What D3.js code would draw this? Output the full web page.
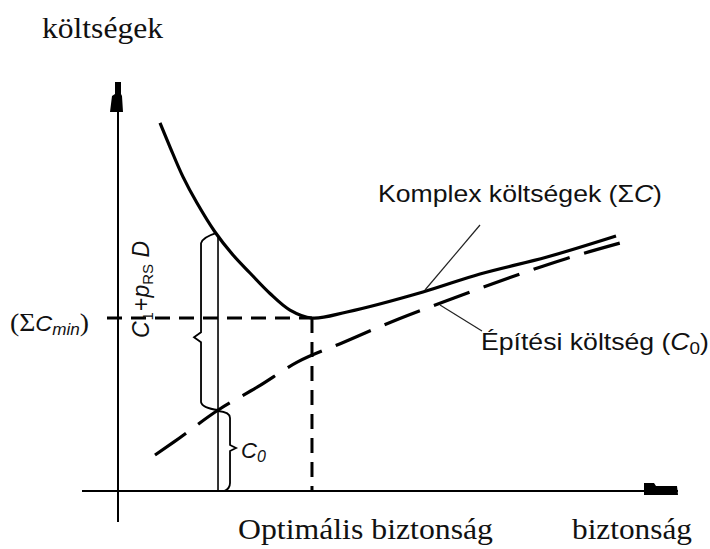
<!DOCTYPE html>
<html><head><meta charset="utf-8">
<script src="https://cdn.jsdelivr.net/npm/d3@7"></script>
<style>html,body{margin:0;padding:0;background:#fff;}svg{display:block;}</style>
</head><body>
<script>
// ---- data (arbitrary units: safety on x, cost on y) ----
const sumCx = [0.75, 0.929, 1.161, 1.411, 1.732, 2.054, 2.357, 2.714, 3.071, 3.464, 4.089, 5.446, 6.464, 7.661, 8.893];
const sumCy = [9.0, 8.41, 7.68, 7.04, 6.333, 5.77, 5.33, 4.83, 4.425, 4.23, 4.377, 4.866, 5.306, 5.721, 6.235];
const c0x = [0.66, 1.0, 1.79, 2.5, 3.2, 4.0, 5.0, 6.0, 7.0, 8.0, 8.96];
const c0y = [0.88, 1.20, 1.98, 2.55, 3.15, 3.62, 4.20, 4.72, 5.22, 5.68, 6.06];
const optimum = [3.464, 4.23];        // optimal safety, ΣC min
const refX = [1.786];                 // reference safety level for braces
const refY = [6.23, 1.98];            // ΣC and C0 at reference level

const W = 710, H = 549;
const x = d3.scaleLinear().domain([0, 10]).range([118, 678]);
const y = d3.scaleLinear().domain([0, 10]).range([491, 82]);

const svg = d3.select("body").append("svg").attr("width", W).attr("height", H);
const ink = "#000";

// axes
svg.append("line").attr("x1", x(0)).attr("x2", x(0)).attr("y1", y(10)).attr("y2", y(0) + 31)
  .attr("stroke", ink).attr("stroke-width", 2);
svg.append("line").attr("x1", x(0) - 36).attr("x2", x(10)).attr("y1", y(0)).attr("y2", y(0))
  .attr("stroke", ink).attr("stroke-width", 2);
// arrow blocks
const ax = x(0), ay = y(10);
svg.append("path").attr("fill", ink)
  .attr("d", `M${ax-3},${ay} L${ax+3},${ay} L${ax+3},${ay+12} L${ax+4},${ay+14} L${ax+5},${ay+30} L${ax-8},${ay+30} L${ax-6},${ay+14} L${ax-3},${ay+12} Z`);
const bx = x(10), by = y(0);
svg.append("path").attr("fill", ink)
  .attr("d", `M${bx-34},${by-8} L${bx-24},${by-8} L${bx-22},${by-5} L${bx-1},${by-5} L${bx},${by+4} L${bx-34},${by+4} Z`);

const line = d3.line().x(d => x(d[0])).y(d => y(d[1])).curve(d3.curveMonotoneX);
const smooth = d3.line().x(d => x(d[0])).y(d => y(d[1])).curve(d3.curveCatmullRom.alpha(0.5));

// C0 dashed curve
svg.append("path").attr("d", line(c0x.map((v, i) => [v, c0y[i]])))
  .attr("fill", "none").attr("stroke", ink).attr("stroke-width", 3.2)
  .attr("stroke-dasharray", "38,15");

// ΣC curve
svg.append("path").attr("d", smooth(sumCx.map((v, i) => [v, sumCy[i]])))
  .attr("fill", "none").attr("stroke", ink).attr("stroke-width", 3.2);

// optimum dashed guides
svg.append("line").attr("x1", x(0) - 11).attr("x2", x(optimum[0])).attr("y1", y(optimum[1])).attr("y2", y(optimum[1]))
  .attr("stroke", ink).attr("stroke-width", 3).attr("stroke-dasharray", "15,9");
svg.append("line").attr("x1", x(optimum[0])).attr("x2", x(optimum[0])).attr("y1", y(optimum[1])).attr("y2", y(0))
  .attr("stroke", ink).attr("stroke-width", 3).attr("stroke-dasharray", "15,9");

// reference vertical line
svg.append("line").attr("x1", x(refX[0])).attr("x2", x(refX[0])).attr("y1", y(refY[0])).attr("y2", y(0))
  .attr("stroke", ink).attr("stroke-width", 1.6);

// big brace (left)
const rx = x(refX[0]), t = y(refY[0]) - 3, m = y(refY[1]);
const bxL = rx - 17, mid = t + 104;
svg.append("path").attr("fill", "none").attr("stroke", ink).attr("stroke-width", 1.8)
  .attr("d", `M${rx-2},${t} Q${bxL+2},${t+4} ${bxL},${t+10} L${bxL},${mid-5} L${bxL-7},${mid} L${bxL},${mid+5} L${bxL},${m-8} Q${bxL+1},${m-2} ${rx},${m}`);
// small brace (right)
const bxR = rx + 12, mid2 = m + 38;
svg.append("path").attr("fill", "none").attr("stroke", ink).attr("stroke-width", 1.8)
  .attr("d", `M${rx},${m+1} Q${bxR},${m+2} ${bxR},${m+8} L${bxR},${mid2-3} L${bxR+6},${mid2} L${bxR},${mid2+3} L${bxR},${y(0)-8} Q${bxR},${y(0)-2} ${rx+6},${y(0)}`);

// leader lines
svg.append("line").attr("x1", 480).attr("y1", 225).attr("x2", 425).attr("y2", 290).attr("stroke", "#222").attr("stroke-width", 1.2);
svg.append("line").attr("x1", 440).attr("y1", 305).attr("x2", 482).attr("y2", 331).attr("stroke", "#222").attr("stroke-width", 1.2);

const serif = "'Liberation Serif', 'Times New Roman', serif";
const sans = "'Liberation Sans', Arial, sans-serif";

// texts
svg.append("text").attr("x", 42).attr("y", 38).attr("font-family", serif).attr("font-size", 30)
  .attr("textLength", 121).attr("lengthAdjust", "spacingAndGlyphs").attr("fill", "#111").text("költségek");

svg.append("text").attr("x", 238).attr("y", 539).attr("font-family", serif).attr("font-size", 30)
  .attr("textLength", 255).attr("lengthAdjust", "spacingAndGlyphs").attr("fill", "#111").text("Optimális biztonság");
svg.append("text").attr("x", 572).attr("y", 539).attr("font-family", serif).attr("font-size", 30)
  .attr("textLength", 120).attr("lengthAdjust", "spacingAndGlyphs").attr("fill", "#111").text("biztonság");

// (ΣCmin)
const t1 = svg.append("text").attr("x", 10).attr("y", 331).attr("fill", "#111").attr("font-size", 26)
  .attr("textLength", 79).attr("lengthAdjust", "spacingAndGlyphs");
t1.append("tspan").attr("font-family", serif).text("(Σ");
t1.append("tspan").attr("font-family", sans).attr("font-style", "italic").attr("font-size", 22).text("C");
t1.append("tspan").attr("font-family", sans).attr("font-style", "italic").attr("font-size", 16).attr("dy", 4).text("min");
t1.append("tspan").attr("font-family", serif).attr("dy", -4).text(")");

// Komplex költségek (ΣC)
const t2 = svg.append("text").attr("x", 378).attr("y", 202).attr("fill", "#111").attr("font-family", sans).attr("font-size", 24)
  .attr("textLength", 284).attr("lengthAdjust", "spacingAndGlyphs");
t2.append("tspan").text("Komplex költségek (Σ");
t2.append("tspan").attr("font-style", "italic").text("C");
t2.append("tspan").text(")");

// Építési költség (C0)
const t3 = svg.append("text").attr("x", 481).attr("y", 350).attr("fill", "#111").attr("font-family", sans).attr("font-size", 24)
  .attr("textLength", 228).attr("lengthAdjust", "spacingAndGlyphs");
t3.append("tspan").text("Építési költség (");
t3.append("tspan").attr("font-style", "italic").text("C");
t3.append("tspan").attr("font-size", 17).attr("dy", 4).text("0");
t3.append("tspan").attr("dy", -4).text(")");

// C0 small label
const t4 = svg.append("text").attr("x", 241).attr("y", 458).attr("fill", "#111").attr("font-family", sans).attr("font-size", 22)
  .attr("font-style", "italic");
t4.append("tspan").text("C");
t4.append("tspan").attr("font-size", 16).attr("dy", 4).text("0");

// rotated label C1+pRS D
const t5 = svg.append("text").attr("transform", "translate(149,338) rotate(-90)").attr("fill", "#111")
  .attr("font-family", sans).attr("font-size", 23);
t5.append("tspan").attr("font-style", "italic").text("C");
t5.append("tspan").attr("font-size", 15).attr("dy", 4).attr("dx", 1).text("1");
t5.append("tspan").attr("dy", -4).attr("dx", 1).text("+");
t5.append("tspan").attr("font-style", "italic").text("p");
t5.append("tspan").attr("font-size", 15).attr("dy", 4).text("RS");
t5.append("tspan").attr("dy", -4).attr("font-style", "italic").text(" D");
</script>
</body></html>
